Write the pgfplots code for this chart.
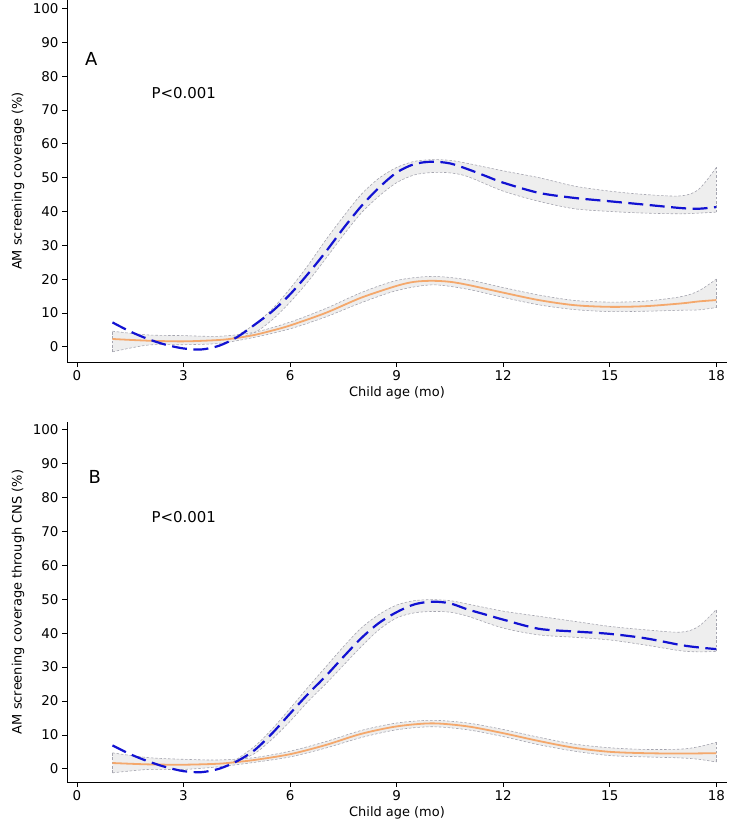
\documentclass[border=0pt]{standalone}
\usepackage{fontspec}
\setmainfont{DejaVu Sans}
\usepackage{pgfplots}
\pgfplotsset{compat=1.18}
\usepgfplotslibrary{fillbetween}
\definecolor{bl}{RGB}{18,18,210}
\definecolor{orng}{RGB}{244,168,108}
\definecolor{bandfill}{RGB}{238,238,238}
\definecolor{bandedge}{RGB}{165,165,175}
\pgfplotsset{
  panel/.style={
    scale only axis, width=660bp,
    xmin=-0.28, xmax=18.3,
    axis x line=bottom, axis y line=left,
    axis line style={-, line width=0.9bp, black},
    xtick={0,3,...,18}, ytick={0,10,...,100},
    tick align=outside, major tick length=5bp,
    tick style={black, line width=0.7bp},
    /pgf/number format/assume math mode=true,
    ticklabel style={font=\fontsize{13.5}{15}\selectfont},
    xlabel style={at={(axis description cs:0.5,0)}, anchor=center, yshift=-31bp, font=\fontsize{13}{15}\selectfont},
    ylabel style={at={(axis description cs:-0.0742,0.5)}, anchor=center, font=\fontsize{13}{15}\selectfont},
    xlabel={Child age (mo)},
    clip=false,
  },
  edge/.style={bandedge, line width=0.6bp, dash pattern=on 2.5bp off 1.8bp, smooth},
  edgev/.style={bandedge, line width=0.6bp, dash pattern=on 2.5bp off 1.8bp},
  bluel/.style={bl, line width=2.2bp, dash pattern=on 15bp off 6.5bp, smooth},
  orl/.style={orng, line width=1.8bp, smooth},
}
\begin{document}
\begin{tikzpicture}
% ---------------- Panel A ----------------
\begin{axis}[panel, at={(67bp,460bp)}, anchor=south west, height=362bp,
  ymin=-4.5, ymax=102.5, ylabel={AM screening coverage (\%)}]
% orange CI
\addplot[name path=oau, draw=none, smooth] coordinates {(1,4.6) (2,3.5) (3,3.3) (4,3.1) (5,4.3) (6,7.3) (7,11.3) (8,16) (9,19.6) (10,20.8) (11,19.8) (12,17.5) (13,15.3) (14,13.7) (15,13.2) (16,13.5) (17,14.8) (17.5,16.5) (18,20)};
\addplot[name path=oal, draw=none, smooth] coordinates {(1,-1.5) (2,0.5) (3,0.6) (4,1.0) (5,2.8) (6,5.3) (7,8.8) (8,13) (9,16.6) (10,18.3) (11,17) (12,14.6) (13,12.4) (14,11) (15,10.4) (16,10.5) (17,10.8) (17.5,10.9) (18,11.6)};
\addplot[bandfill] fill between[of=oau and oal];
% blue CI
\addplot[name path=bau, draw=none, smooth] coordinates {(4.4,2.7) (5,6.6) (5.5,11.2) (6,17.2) (6.5,24) (7,31.5) (7.5,38.5) (8,45) (8.5,49.8) (9,53) (9.5,54.8) (10,55.3) (10.5,55.1) (11,54.2) (12,52) (13,50) (14,47.5) (15,46) (16,45) (17,44.6) (17.5,46.5) (18,53)};
\addplot[name path=bal, draw=none, smooth] coordinates {(4.4,2.3) (5,4.2) (5.5,8) (6,13.2) (6.5,19.2) (7,26) (7.5,33) (8,39.5) (8.5,44.5) (9,48.5) (9.5,50.8) (10,51.5) (10.5,51.4) (11,50.3) (12,46) (13,43) (14,40.8) (15,40) (16,39.5) (17,39.3) (17.5,39.5) (18,39.8)};
\addplot[bandfill] fill between[of=bau and bal];
\addplot[edge] coordinates {(1,4.6) (2,3.5) (3,3.3) (4,3.1) (5,4.3) (6,7.3) (7,11.3) (8,16) (9,19.6) (10,20.8) (11,19.8) (12,17.5) (13,15.3) (14,13.7) (15,13.2) (16,13.5) (17,14.8) (17.5,16.5) (18,20)};
\addplot[edge] coordinates {(1,-1.5) (2,0.5) (3,0.6) (4,1.0) (5,2.8) (6,5.3) (7,8.8) (8,13) (9,16.6) (10,18.3) (11,17) (12,14.6) (13,12.4) (14,11) (15,10.4) (16,10.5) (17,10.8) (17.5,10.9) (18,11.6)};
\addplot[edge] coordinates {(4.4,2.7) (5,6.6) (5.5,11.2) (6,17.2) (6.5,24) (7,31.5) (7.5,38.5) (8,45) (8.5,49.8) (9,53) (9.5,54.8) (10,55.3) (10.5,55.1) (11,54.2) (12,52) (13,50) (14,47.5) (15,46) (16,45) (17,44.6) (17.5,46.5) (18,53)};
\addplot[edge] coordinates {(4.4,2.3) (5,4.2) (5.5,8) (6,13.2) (6.5,19.2) (7,26) (7.5,33) (8,39.5) (8.5,44.5) (9,48.5) (9.5,50.8) (10,51.5) (10.5,51.4) (11,50.3) (12,46) (13,43) (14,40.8) (15,40) (16,39.5) (17,39.3) (17.5,39.5) (18,39.8)};
\addplot[edgev] coordinates {(1,-1.5) (1,4.6)};
\addplot[edgev] coordinates {(18,11.6) (18,20)};
\addplot[edgev] coordinates {(18,39.8) (18,53)};
% lines
\addplot[orl] coordinates {(1,2.3) (2,1.8) (3,1.6) (4,2.0) (4.5,2.6) (5,3.5) (5.5,4.8) (6,6.3) (7,10) (8,14.5) (9,18) (9.5,19.2) (10,19.5) (10.5,19.2) (11,18.3) (12,16) (13,13.8) (14,12.3) (15,11.8) (16,12) (17,12.8) (17.5,13.4) (18,13.8)};
\addplot[bluel] coordinates {(1,7.2) (1.5,4.5) (2,2.3) (2.5,0.6) (3,-0.5) (3.5,-0.8) (4,0.3) (4.5,2.8) (5,6.5) (5.5,10.5) (6,15.5) (6.5,21.5) (7,28) (7.5,35) (8,41.5) (8.5,47) (9,51.5) (9.5,54) (10,54.7) (10.5,54.2) (11,52.5) (11.5,50.5) (12,48.5) (13,45.5) (14,44) (15,43) (16,42) (17,41) (17.5,40.8) (18,41.3)};
\node[font=\fontsize{18}{20}\selectfont] at (axis cs:0.4,85) {A};
\node[anchor=west, font=\fontsize{15}{17}\selectfont] at (axis cs:2.0,75) {P<0.001};
\end{axis}
% ---------------- Panel B ----------------
\begin{axis}[panel, at={(67bp,40bp)}, anchor=south west, height=360bp,
  ymin=-3.9, ymax=102.3, ylabel={AM screening coverage through CNS (\%)}]
\addplot[name path=obu, draw=none, smooth] coordinates {(1,4.7) (2,3.3) (3,2.8) (4,2.6) (5,3.3) (6,5.2) (7,8) (8,11.3) (9,13.5) (10,14.3) (11,13.5) (12,11.6) (13,9.3) (14,7.3) (15,6.2) (16,5.7) (17,5.8) (17.5,6.5) (18,7.8)};
\addplot[name path=obl, draw=none, smooth] coordinates {(1,-1.2) (2,-0.2) (3,-0.2) (4,0.6) (5,1.9) (6,3.5) (7,6.1) (8,9.2) (9,11.5) (10,12.4) (11,11.5) (12,9.5) (13,7.1) (14,5.2) (15,3.9) (16,3.5) (17,3.2) (17.5,2.8) (18,2)};
\addplot[bandfill] fill between[of=obu and obl];
\addplot[name path=bbu, draw=none, smooth] coordinates {(4.4,2.1) (5,6.6) (5.5,11.8) (6,17.8) (6.5,24) (7,30) (7.5,36) (8,41.5) (8.5,45.5) (9,48.3) (9.5,49.6) (10,49.9) (10.5,49.6) (11,48.6) (12,46.5) (13,45) (14,43.5) (15,42) (16,41) (17,40.3) (17.5,42) (18,47)};
\addplot[name path=bbl, draw=none, smooth] coordinates {(4.4,1.7) (5,4.5) (5.5,8.8) (6,14) (6.5,19.8) (7,25) (7.5,30.5) (8,36) (8.5,41) (9,44.5) (9.5,46) (10,46.4) (10.5,46.2) (11,45) (12,41.5) (13,39.5) (14,38.8) (15,38) (16,36.5) (17,34.8) (17.5,34.5) (18,34.6)};
\addplot[bandfill] fill between[of=bbu and bbl];
\addplot[edge] coordinates {(1,4.7) (2,3.3) (3,2.8) (4,2.6) (5,3.3) (6,5.2) (7,8) (8,11.3) (9,13.5) (10,14.3) (11,13.5) (12,11.6) (13,9.3) (14,7.3) (15,6.2) (16,5.7) (17,5.8) (17.5,6.5) (18,7.8)};
\addplot[edge] coordinates {(1,-1.2) (2,-0.2) (3,-0.2) (4,0.6) (5,1.9) (6,3.5) (7,6.1) (8,9.2) (9,11.5) (10,12.4) (11,11.5) (12,9.5) (13,7.1) (14,5.2) (15,3.9) (16,3.5) (17,3.2) (17.5,2.8) (18,2)};
\addplot[edge] coordinates {(4.4,2.1) (5,6.6) (5.5,11.8) (6,17.8) (6.5,24) (7,30) (7.5,36) (8,41.5) (8.5,45.5) (9,48.3) (9.5,49.6) (10,49.9) (10.5,49.6) (11,48.6) (12,46.5) (13,45) (14,43.5) (15,42) (16,41) (17,40.3) (17.5,42) (18,47)};
\addplot[edge] coordinates {(4.4,1.7) (5,4.5) (5.5,8.8) (6,14) (6.5,19.8) (7,25) (7.5,30.5) (8,36) (8.5,41) (9,44.5) (9.5,46) (10,46.4) (10.5,46.2) (11,45) (12,41.5) (13,39.5) (14,38.8) (15,38) (16,36.5) (17,34.8) (17.5,34.5) (18,34.6)};
\addplot[edgev] coordinates {(1,-1.2) (1,4.7)};
\addplot[edgev] coordinates {(18,2) (18,7.8)};
\addplot[edgev] coordinates {(18,34.6) (18,47)};
\addplot[orl] coordinates {(1,1.7) (2,1.3) (3,1.2) (4,1.5) (4.5,2.0) (5,2.6) (6,4.3) (7,7) (8,10.3) (9,12.5) (10,13.4) (11,12.5) (12,10.5) (13,8.2) (14,6.2) (15,5) (16,4.6) (17,4.5) (18,4.6)};
\addplot[bluel] coordinates {(1,6.9) (1.5,4.3) (2,2.2) (2.5,0.5) (3,-0.7) (3.5,-1.0) (4,0) (4.5,2.2) (5,5.5) (5.5,10.5) (6,16.3) (6.5,22) (7,27.3) (7.5,33) (8,38.5) (8.5,43) (9,46.2) (9.5,48.5) (10,49.3) (10.5,48.8) (11,47) (11.5,45.5) (12,44) (13,41.3) (14,40.5) (15,39.8) (16,38.5) (17,36.5) (17.5,35.8) (18,35.3)};
\node[font=\fontsize{18}{20}\selectfont] at (axis cs:0.5,86) {B};
\node[anchor=west, font=\fontsize{15}{17}\selectfont] at (axis cs:2.0,74.3) {P<0.001};
\end{axis}
\pgfresetboundingbox
\path (0,0) rectangle (740bp,822bp);
\end{tikzpicture}
\end{document}
